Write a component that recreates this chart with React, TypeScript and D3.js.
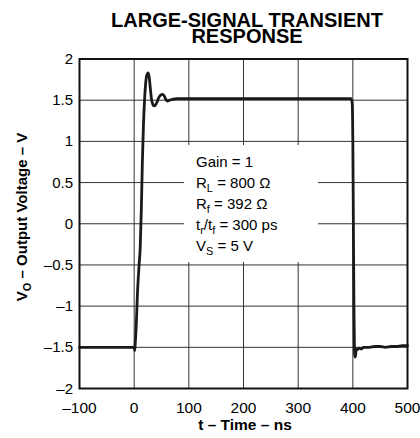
import React from "react";
import * as d3 from "d3";

const timeNs = [
  -100, -50, 0, 1, 2, 4, 6, 9, 11, 13, 15, 17, 19, 21, 23, 25.5, 27.5, 29.5, 31.5, 34, 36.5, 39, 42, 45, 48, 52, 55, 58, 61, 65, 70, 78, 90, 120, 160, 200, 250, 300, 350, 380, 397, 399, 400, 401, 402, 403, 404, 405, 406, 408, 411, 415, 420, 430, 440, 450, 460, 470, 480, 490, 495, 500,
];
const voltageV = [
  -1.5, -1.5, -1.5, -1.54, -1.45, -1.2, -0.85, -0.5, -0.3, 0.15, 0.75, 1.2, 1.5, 1.7, 1.8, 1.83, 1.78, 1.65, 1.52, 1.45, 1.43, 1.44, 1.48, 1.53, 1.56, 1.57, 1.55, 1.51, 1.49, 1.5, 1.51, 1.52, 1.52, 1.52, 1.52, 1.52, 1.52, 1.52, 1.52, 1.52, 1.52, 1.45, 1.0, 0.0, -1.0, -1.55, -1.62, -1.6, -1.52, -1.53, -1.51, -1.52, -1.5, -1.5, -1.49, -1.49, -1.5, -1.49, -1.49, -1.48, -1.48, -1.48,
];
const xTicks = [-100, 0, 100, 200, 300, 400, 500];
const yTicks = [2, 1.5, 1, 0.5, 0, -0.5, -1, -1.5, -2];
const titleLines = ["LARGE-SIGNAL TRANSIENT", "RESPONSE"];

const fmt = (v: number) => (v < 0 ? "\u2013" + String(Math.abs(v)) : String(v));

export default function App() {
  const W = 420;
  const H = 438;
  const x = d3.scaleLinear().domain([-100, 500]).range([79.5, 407.5]);
  const y = d3.scaleLinear().domain([-2, 2]).range([388.5, 59]);
  const line = d3
    .line<number>()
    .x((_, i) => x(timeNs[i]))
    .y((v) => y(v))
    .curve(d3.curveMonotoneX);
  const font = "'Liberation Sans', Arial, Helvetica, sans-serif";
  const boxX = 196;
  const base = 167;
  const lh = 21;
  return (
    <svg width={W} height={H} style={{ position: "absolute", left: 0, top: 0 }} fontFamily={font}>
      <rect width={W} height={H} fill="#fff" />
      <text textAnchor="middle" fontWeight="bold" fontSize={20}>
        {titleLines.map((t, i) => (
          <tspan key={t} x={247} y={27 + i * 16}>
            {t}
          </tspan>
        ))}
      </text>
      {xTicks.map((t) => (
        <line key={"gx" + t} x1={x(t)} x2={x(t)} y1={y(2)} y2={y(-2)} stroke="#333" strokeWidth={1} />
      ))}
      {yTicks.map((t) => (
        <line key={"gy" + t} x1={x(-100)} x2={x(500)} y1={y(t)} y2={y(t)} stroke="#333" strokeWidth={1} />
      ))}
      <rect x={184} y={145} width={134} height={117} fill="#fff" />
      <path d={line(voltageV) || ""} fill="none" stroke="#1a1a1a" strokeWidth={2.8} strokeLinejoin="round" strokeLinecap="round" />
      <rect x={x(-100)} y={y(2)} width={x(500) - x(-100)} height={y(-2) - y(2)} fill="none" stroke="#111" strokeWidth={2} />
      {yTicks.map((t) => (
        <text key={"ly" + t} x={73} y={y(t) + 5} textAnchor="end" fontSize={15}>
          {fmt(t)}
        </text>
      ))}
      {xTicks.map((t) => (
        <text key={"lx" + t} x={x(t)} y={413} textAnchor="middle" fontSize={15.5}>
          {fmt(t)}
        </text>
      ))}
      <text x={245} y={430} textAnchor="middle" fontWeight="bold" fontSize={15.5}>
        t – Time – ns
      </text>
      <text transform="translate(27,217) rotate(-90)" textAnchor="middle" fontWeight="bold" fontSize={15}>
        V<tspan fontSize={11} dy={4}>O</tspan>
        <tspan dy={-4}> – Output Voltage – V</tspan>
      </text>
      <g fontSize={15}>
        <text x={boxX} y={base}>Gain = 1</text>
        <text x={boxX} y={base + lh}>
          R<tspan fontSize={11} dy={4}>L</tspan>
          <tspan dy={-4}> = 800 Ω</tspan>
        </text>
        <text x={boxX} y={base + 2 * lh}>
          R<tspan fontSize={11} dy={4}>f</tspan>
          <tspan dy={-4}> = 392 Ω</tspan>
        </text>
        <text x={boxX} y={base + 3 * lh}>
          t<tspan fontSize={11} dy={4}>r</tspan>
          <tspan dy={-4}>/t</tspan>
          <tspan fontSize={11} dy={4}>f</tspan>
          <tspan dy={-4}> = 300 ps</tspan>
        </text>
        <text x={boxX} y={base + 4 * lh}>
          V<tspan fontSize={11} dy={4}>S</tspan>
          <tspan dy={-4}> = 5 V</tspan>
        </text>
      </g>
    </svg>
  );
}
